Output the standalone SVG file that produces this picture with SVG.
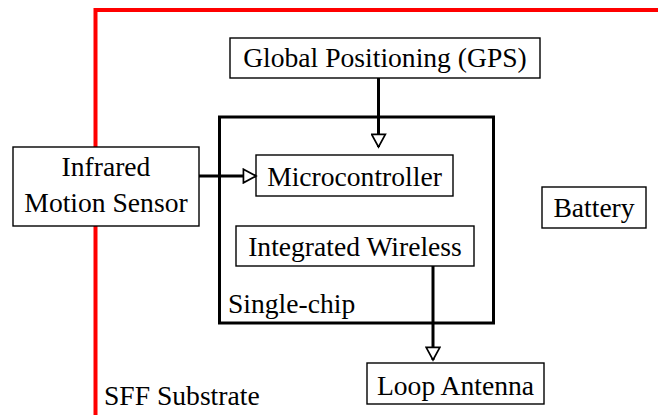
<svg xmlns="http://www.w3.org/2000/svg" width="658" height="415" viewBox="0 0 658 415">
  <style>
    .box { fill: #fff; stroke: #000; stroke-width: 1.4; }
    .chip { fill: none; stroke: #000; stroke-width: 3; }
    .lbl { font-family: "Liberation Serif", "Times New Roman", serif; font-size: 27.6px; fill: #000; }
    .mid { text-anchor: middle; }
    .wire { fill: none; stroke: #000; stroke-width: 3; marker-end: url(#open); }
    .substrate { fill: none; stroke: #ff0000; stroke-width: 4; }
  </style>
  <defs>
    <marker id="open" markerUnits="userSpaceOnUse" markerWidth="16" markerHeight="16" refX="12" refY="7" orient="auto" viewBox="0 0 14 14">
      <path d="M1,1 L12,7 L1,13 Z" fill="#fff" stroke="#000" stroke-width="1.5"/>
    </marker>
  </defs>

  <!-- substrate outline (open at right and bottom) -->
  <g id="substrate">
    <polyline class="substrate" points="95.5,415 95.5,10 658,10"/>
    <text class="lbl" x="104" y="405">SFF Substrate</text>
  </g>

  <!-- single-chip enclosure -->
  <g id="single-chip">
    <rect class="chip" x="219.5" y="117" width="274" height="206"/>
    <text class="lbl" x="228" y="313">Single-chip</text>
  </g>

  <g id="gps">
    <rect class="box" x="230" y="38" width="310" height="40"/>
    <text class="lbl mid" x="385" y="67">Global Positioning (GPS)</text>
  </g>

  <g id="infrared">
    <rect class="box" x="13" y="147" width="186" height="79"/>
    <text class="lbl mid" x="106" y="176">Infrared</text>
    <text class="lbl mid" x="106" y="212">Motion Sensor</text>
  </g>

  <g id="microcontroller">
    <rect class="box" x="256" y="155" width="197" height="41"/>
    <text class="lbl mid" x="354.5" y="186">Microcontroller</text>
  </g>

  <g id="wireless">
    <rect class="box" x="236" y="226" width="238" height="40"/>
    <text class="lbl mid" x="355" y="256">Integrated Wireless</text>
  </g>

  <g id="battery">
    <rect class="box" x="542" y="187" width="104" height="41"/>
    <text class="lbl mid" x="594" y="217">Battery</text>
  </g>

  <g id="antenna">
    <rect class="box" x="367" y="363" width="177" height="41"/>
    <text class="lbl mid" x="455.5" y="395">Loop Antenna</text>
  </g>

  <g id="connectors">
    <line class="wire" x1="378.5" y1="78" x2="378.5" y2="147"/>
    <line class="wire" x1="199" y1="176" x2="256" y2="176"/>
    <line class="wire" x1="433" y1="266" x2="433" y2="360"/>
  </g>
</svg>
